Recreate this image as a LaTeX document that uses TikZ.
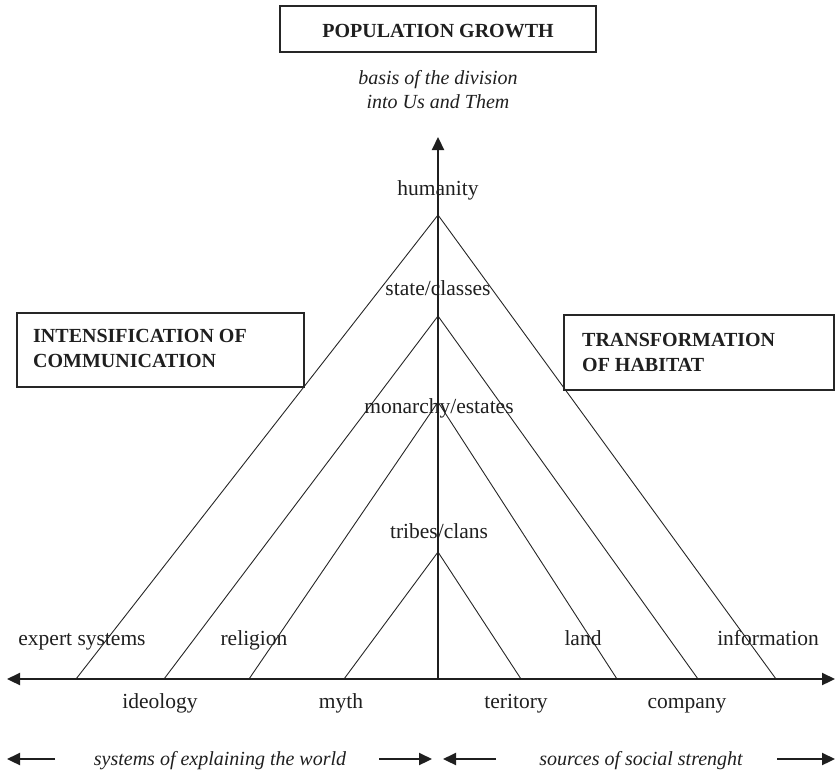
\documentclass[tikz,border=0pt]{standalone}
\usepackage{fontspec}
\setmainfont{Liberation Serif}
\usetikzlibrary{arrows.meta}

\tikzset{
  lbl/.style={font=\fontsize{21.5}{25}\selectfont, text=black!88, inner sep=0pt},
  ital/.style={font=\fontsize{20}{24}\selectfont\itshape, text=black!88, inner sep=0pt},
  boldlbl/.style={font=\fontsize{20}{25}\selectfont\bfseries, text=black!88, inner sep=0pt, align=left},
  framebox/.style={draw=black!85, line width=1.8pt, inner sep=0pt},
  axis/.style={draw=black!88, line width=2.2pt},
  diag/.style={draw=black!85, line width=0.9pt},
  headtip/.style={-{Triangle[length=13pt,width=12pt]}},
}

\begin{document}
\begin{tikzpicture}[x=1pt,y=-1pt]
\useasboundingbox (0,0) rectangle (837,774);

% --- title boxes (base anchor of a multi-line node = last line) --------
\node[framebox, minimum width=316pt, minimum height=46pt] (pop) at (438,29) {};
\node[boldlbl, anchor=base] (poptxt) at (438,37) {POPULATION GROWTH};

\node[ital, anchor=base, align=center] (basis) at (438,108)
  {basis of the division\\into Us and Them};

\node[framebox, anchor=north west, minimum width=287pt, minimum height=74pt] (comm) at (16,312) {};
\node[boldlbl, anchor=base west] (commtxt) at (33,367) {INTENSIFICATION OF\\COMMUNICATION};

\node[framebox, anchor=north west, minimum width=270pt, minimum height=75pt] (hab) at (563,314) {};
\node[boldlbl, anchor=base west] (habtxt) at (582,371) {TRANSFORMATION\\OF HABITAT};

% --- apexes on the vertical axis and feet on the horizontal axis -------
\coordinate (apexA) at (438,215);
\coordinate (apexB) at (438,316);
\coordinate (apexC) at (438,402);
\coordinate (apexD) at (438,552);

\coordinate (l1) at (76,679);
\coordinate (l2) at (164,679);
\coordinate (l3) at (249,679);
\coordinate (l4) at (344,679);
\coordinate (r1) at (776,679);
\coordinate (r2) at (698,679);
\coordinate (r3) at (617,679);
\coordinate (r4) at (521,679);

\coordinate (hl) at (7,679);
\coordinate (hr) at (835,679);
\coordinate (vb) at (438,679);
\coordinate (vt) at (438,137);

% --- nested triangles ---------------------------------------------------
\draw[diag] (l1) -- (apexA) -- (r1);
\draw[diag] (l2) -- (apexB) -- (r2);
\draw[diag] (l3) -- (apexC) -- (r3);
\draw[diag] (l4) -- (apexD) -- (r4);

% --- axes ---------------------------------------------------------------
\draw[axis, {Triangle[length=13pt,width=12pt]}-{Triangle[length=13pt,width=12pt]}] (hl) -- (hr);
\draw[axis, headtip] (vb) -- (vt);

% --- level labels -------------------------------------------------------
\node[lbl, anchor=base] (hum) at (438,195) {humanity};
\node[lbl, anchor=base] (st) at (438,295) {state/classes};
\node[lbl, anchor=base] (mon) at (439,413) {monarchy/estates};
\node[lbl, anchor=base] (tri) at (439,538) {tribes/clans};

% --- labels along the base ----------------------------------------------
\node[lbl, anchor=base] (exp) at (82,645) {expert systems};
\node[lbl, anchor=base] (rel) at (254,645) {religion};
\node[lbl, anchor=base] (land) at (583,645) {land};
\node[lbl, anchor=base] (inf) at (768,645) {information};

\node[lbl, anchor=base] (ideo) at (160,708) {ideology};
\node[lbl, anchor=base] (myth) at (341,708) {myth};
\node[lbl, anchor=base] (ter) at (516,708) {teritory};
\node[lbl, anchor=base] (comp) at (687,708) {company};

% --- bottom captions with their arrows -------------------------------------
\node[ital, anchor=base] (sys) at (220,765) {systems of explaining the world};
\node[ital, anchor=base] (src) at (641,765) {sources of social strenght};

\coordinate (a1s) at (55,759);  \coordinate (a1e) at (7,759);
\coordinate (a2s) at (379,759); \coordinate (a2e) at (432,759);
\coordinate (a3s) at (496,759); \coordinate (a3e) at (443,759);
\coordinate (a4s) at (777,759); \coordinate (a4e) at (835,759);
\draw[axis, headtip] (a1s) -- (a1e);
\draw[axis, headtip] (a2s) -- (a2e);
\draw[axis, headtip] (a3s) -- (a3e);
\draw[axis, headtip] (a4s) -- (a4e);
\end{tikzpicture}
\end{document}
